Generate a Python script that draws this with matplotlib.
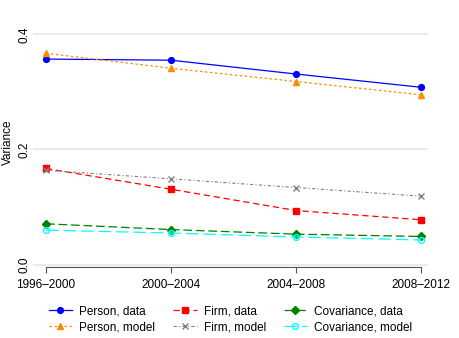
import matplotlib.pyplot as plt

plt.rcParams['font.family'] = ['Liberation Sans', 'DejaVu Sans']

periods = ["1996\u20132000", "2000\u20132004", "2004\u20132008", "2008\u20132012"]
person_data = [0.357, 0.355, 0.331, 0.308]
person_model = [0.367, 0.341, 0.318, 0.295]
firm_data = [0.167, 0.131, 0.094, 0.078]
firm_model = [0.164, 0.149, 0.134, 0.119]
cov_data = [0.071, 0.061, 0.053, 0.049]
cov_model = [0.060, 0.055, 0.048, 0.043]

x = list(range(len(periods)))

fig = plt.figure(figsize=(4.6, 3.38), dpi=100)
ax = fig.add_axes([33/460, 1 - 267/338, 395/460, 250/338])

for yv in [0.0, 0.2, 0.4]:
    ax.axhline(yv, color='#e6e6e6', lw=1.2, zorder=0)

h1, = ax.plot(x, person_data, color='blue', ls='-', lw=0.9, marker='o', ms=4.2, label='Person, data')
h2, = ax.plot(x, person_model, color='darkorange', ls=(0, (2, 2)), lw=0.9, marker='^', ms=4.2, label='Person, model')
h3, = ax.plot(x, firm_data, color='red', ls=(0, (5, 3)), lw=0.9, marker='s', ms=4.2, label='Firm, data')
h4, = ax.plot(x, firm_model, color='gray', ls=(0, (3, 2, 1, 2)), lw=0.8, marker='x', ms=4.2, label='Firm, model')
h5, = ax.plot(x, cov_data, color='green', ls=(0, (7, 3)), lw=0.9, marker='D', ms=3.8, label='Covariance, data')
h6, = ax.plot(x, cov_model, color='cyan', ls=(0, (10, 4)), lw=0.9, marker='o', mfc='none', ms=4.2, label='Covariance, model')

ax.set_xlim(-0.104, 3.056)
ax.set_ylim(-0.004, 0.43)
ax.set_yticks([0.0, 0.2, 0.4])
ax.set_yticklabels(['0.0', '0.2', '0.4'], rotation=90, va='center')
ax.tick_params(axis='y', length=0, labelsize=8.5, pad=2)
ax.set_xticks(x)
ax.set_xticklabels(periods)
ax.tick_params(axis='x', length=4, color='#555555', labelsize=8.5, pad=5)
ax.set_ylabel('Variance', fontsize=8.5, labelpad=3)

for s in ['top', 'right', 'left']:
    ax.spines[s].set_visible(False)
ax.spines['bottom'].set_color('#555555')
ax.spines['bottom'].set_bounds(0, 3)

ax.legend(handles=[h1, h2, h3, h4, h5, h6], ncol=3, loc='upper center',
          bbox_to_anchor=(0.5, -0.11), frameon=False, fontsize=8.5,
          handlelength=2.0, columnspacing=1.5, labelspacing=0.35, handletextpad=0.6)

fig.savefig('out.png', dpi=100)
